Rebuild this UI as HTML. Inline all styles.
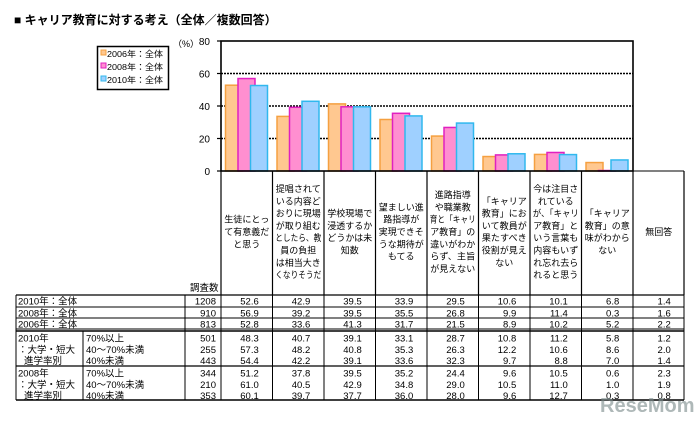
<!DOCTYPE html>
<html><head><meta charset="utf-8"><style>
body{margin:0;background:#fff;width:699px;height:419px;overflow:hidden;font-family:"Liberation Sans","Noto Sans CJK JP",sans-serif;}
svg text{font-family:"Liberation Sans","Noto Sans CJK JP",sans-serif;}
</style></head><body>
<svg id="c" width="699" height="419" xmlns="http://www.w3.org/2000/svg">
<text x="14" y="24" font-size="12" font-weight="bold">■ キャリア教育に対する考え（全体／複数回答）</text>
<text x="173" y="47" font-size="9">（%）</text>
<g id="legend">
<rect x="97.5" y="46.5" width="71" height="43" fill="#fff" stroke="#000" stroke-width="1.5"/>
</g>
<g id="plot"></g>
<g id="tbl"></g>
<text x="600" y="412" font-size="20" font-weight="bold" fill="#7a8a8a" opacity="0.6">ReseMom</text>
</svg>
<script>
const categories=["生徒にとって有意義だと思う","提唱されている内容どおりに現場が取り組むとしたら、教員の負担は相当大きくなりそうだ","学校現場で浸透するかどうかは未知数","望ましい進路指導が実現できそうな期待がもてる","進路指導や職業教育と「キャリア教育」の違いがわからず、主旨が見えない","「キャリア教育」において教員が果たすべき役割が見えない","今は注目されているが、「キャリア教育」という言葉も内容もいずれ忘れ去られると思う","「キャリア教育」の意味がわからない","無回答"];
const catLines=[["生徒にとっ","て有意義だ","と思う"],["提唱されて","いる内容ど","おりに現場","が取り組む","としたら、教","員の負担","は相当大き","くなりそうだ"],["学校現場で","浸透するか","どうかは未","知数"],["望ましい進","路指導が","実現できそ","うな期待が","もてる"],["進路指導","や職業教","育と「キャリ","ア教育」の","違いがわか","らず、主旨","が見えない"],["「キャリア","教育」にお","いて教員が","果たすべき","役割が見え","ない"],["今は注目さ","れている","が、「キャリ","ア教育」と","いう言葉も","内容もいず","れ忘れ去ら","れると思う"],["「キャリア","教育」の意","味がわから","ない"],["無回答"]];
const seriesNames=["2006年：全体","2008年：全体","2010年：全体"];
const s2006=[52.8,33.6,41.3,31.7,21.5,8.9,10.2,5.2,2.2];
const s2008=[56.9,39.2,39.5,35.5,26.8,9.9,11.4,0.3,1.6];
const s2010=[52.6,42.9,39.5,33.9,29.5,10.6,10.1,6.8,1.4];
const yTicks=[0,20,40,60,80];
const rowLabels=["2010年：全体","2008年：全体","2006年：全体"];
const rowN=[1208,910,813];
const groupLabels=[["2010年","：大学・短大","進学率別"],["2008年","：大学・短大","進学率別"]];
const subLabels=["70%以上","40～70%未満","40%未満"];
const groupN=[501,255,443,344,210,353];
const groupVals=[
[48.3,40.7,39.1,33.1,28.7,10.8,11.2,5.8,1.2],
[57.3,48.2,40.8,35.3,26.3,12.2,10.6,8.6,2.0],
[54.4,42.2,39.1,33.6,32.3,9.7,8.8,7.0,1.4],
[51.2,37.8,39.5,35.2,24.4,9.6,10.5,0.6,2.3],
[61.0,40.5,42.9,34.8,29.0,10.5,11.0,1.0,1.9],
[60.1,39.7,37.7,36.0,28.0,9.6,12.7,0.3,0.8]];
const NS="http://www.w3.org/2000/svg";
function mk(p,t,a,txt){const e=document.createElementNS(NS,t);for(const k in a)e.setAttribute(k,a[k]);if(txt!==undefined)e.textContent=txt;p.appendChild(e);return e;}
const X0=221,CW=51.5,Y0=171,Y1=41,YMAX=80,PR=633;
const y=v=>Y0-(v/YMAX)*(Y0-Y1);
const cx=i=>X0+i*CW;
const plot=document.getElementById('plot');
const fills=["#FFC890","#FF8FD0","#9FD0FF"],strokes=["#F5A040","#E020C0","#30B8EE"];
const series=[s2006,s2008,s2010];
yTicks.forEach(t=>{
 if(t>0&&t<80){const g=mk(plot,'line',{x1:X0,x2:PR,y1:y(t),y2:y(t),stroke:'#000','stroke-width':1.6,'stroke-dasharray':'2,1'});
 
 }
 const tl=mk(plot,'text',{x:210,y:y(t)+4,'font-size':10,'text-anchor':'end'},String(t));
 
 
 const tk=mk(plot,'line',{x1:X0-4,x2:X0,y1:y(t),y2:y(t),stroke:'#000','stroke-width':1.2});
 
 
});
for(let i=0;i<8;i++){
 series.forEach((s,k)=>{
  const r=mk(plot,'rect',{x:cx(i)+4.5+k*12.5,y:y(s[i]),width:17,height:Y0-y(s[i]),fill:fills[k],stroke:strokes[k],'stroke-width':1.5});
  
  
 });
}
const fr=mk(plot,'rect',{x:X0,y:Y1,width:PR-X0,height:Y0-Y1,fill:'none',stroke:'#000','stroke-width':1.6});


const lg=document.getElementById('legend');
seriesNames.forEach((n,k)=>{
 const yy=57+k*13;
 const sq=mk(lg,'rect',{x:101,y:yy-7,width:5,height:5,fill:fills[k],stroke:strokes[k]});
 
 
 const t=mk(lg,'text',{x:107,y:yy,'font-size':8.5,textLength:56,lengthAdjust:'spacingAndGlyphs'},n);
 
 
});
const tb=document.getElementById('tbl');
const TY0=171,TY1=295;
for(let i=0;i<=9;i++){
 const xx=i<9?cx(i):684;
 const l=mk(tb,'line',{x1:xx,x2:xx,y1:TY0,y2:TY1,stroke:'#000','stroke-width':1.2});
 
 
}
const hb=mk(tb,'line',{x1:PR,x2:684,y1:TY0,y2:TY0,stroke:'#000','stroke-width':1});


catLines.forEach((ls,i)=>{
 const mid=(TY0+TY1)/2-2, start=mid-(ls.length-1)*12.3/2;
 ls.forEach((s,j)=>{
  const a={x:cx(i)+CW/2,y:start+j*12.3+4,'font-size':9,'text-anchor':'middle'};
  if(s.length>=5){a.textLength=Math.min(46,s.length*9);a.lengthAdjust='spacingAndGlyphs';}
  const t=mk(tb,'text',a,s);
  
  
 });
});
const hd=mk(tb,'text',{x:190,y:291,'font-size':9.5},'調査数');


const L=16,R=684,NX=185;
function hline(yy,w){const l=mk(tb,'line',{x1:L,x2:R,y1:yy,y2:yy,stroke:'#000','stroke-width':w});}
function vline(xx,a,b){const l=mk(tb,'line',{x1:xx,x2:xx,y1:a,y2:b,stroke:'#000','stroke-width':1});}
const rt=[295,307,318,329];
rt.forEach((v,i)=>hline(v,i==0?1.2:1));
hline(331,1.6);
hline(366,1.2);hline(400,1.6);
vline(L,295,400);vline(R,295,400);vline(NX,295,400);vline(83,331,400);
for(let i=0;i<=8;i++)vline(cx(i),295,400);
function cell(txt,xx,yy,anchor,name){const t=mk(tb,'text',{x:xx,y:yy,'font-size':9.5,'text-anchor':anchor},txt);}
rowLabels.forEach((lb,r)=>{
 const yy=rt[r]+9.5;
 cell(lb,18,yy,'start','row-label');
 cell(String(rowN[r]),216,yy,'end','row-n');
 const s=series[2-r];
 s.forEach((v,i)=>cell(v.toFixed(1),cx(i)+CW/2+12,yy,'end','row-value'));
});
groupN.forEach((n,r)=>{
 const base=r<3?331:366, yy=base+10.5+(r%3)*11.3;
 cell(groupLabels[Math.floor(r/3)][r%3],r%3==2?24:18,yy,'start','group-label');
 cell(subLabels[r%3],86,yy,'start','sub-label');
 cell(String(n),216,yy,'end','group-n');
 groupVals[r].forEach((v,i)=>cell(v.toFixed(1),cx(i)+CW/2+12,yy,'end','group-value'));
});
</script>
</body></html>
